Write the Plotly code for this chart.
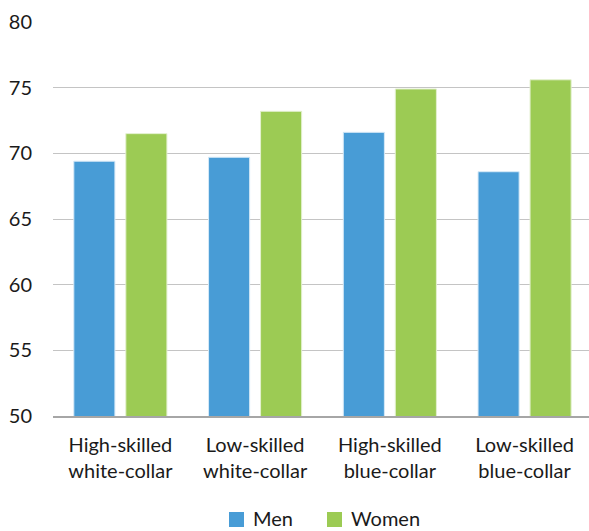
import plotly.graph_objects as go

categories = ["High-skilled<br>white-collar", "Low-skilled<br>white-collar",
              "High-skilled<br>blue-collar", "Low-skilled<br>blue-collar"]
men = [69.4, 69.7, 71.6, 68.6]
women = [71.5, 73.2, 74.9, 75.6]
y_ticks = [50, 55, 60, 65, 70, 75, 80]

FONT = "Lato"
TEXT = "#1a1a1a"
BLUE = "#489cd6"
GREEN = "#9ccb54"

W, H = 589, 531
M_L, M_R, M_T, M_B = 53, 0, 22, 115
PLOT_W = W - M_L - M_R
PLOT_H = H - M_T - M_B

fig = go.Figure()
fig.add_trace(go.Bar(x=categories, y=men, name="Men",
                     marker=dict(color=BLUE, line=dict(color="#d6e9f7", width=1))))
fig.add_trace(go.Bar(x=categories, y=women, name="Women",
                     marker=dict(color=GREEN, line=dict(color="#e3f0cf", width=1))))


def px_x(px):
    return (px - M_L) / PLOT_W


def px_y(py):
    return (H - M_B - py) / PLOT_H


# legend below the axis: colour swatch followed by the series name
legend_items = [("Men", BLUE, 229), ("Women", GREEN, 327)]
for name, color, left in legend_items:
    fig.add_shape(type="rect", xref="paper", yref="paper",
                  x0=px_x(left), x1=px_x(left + 15), y0=px_y(527), y1=px_y(512),
                  fillcolor=color, line=dict(width=0))
    fig.add_annotation(text=name, xref="paper", yref="paper",
                       x=px_x(left + 23), y=px_y(518), xanchor="left", yanchor="middle",
                       showarrow=False, borderpad=0, font=dict(size=20, color=TEXT))

fig.update_layout(
    width=W, height=H,
    margin=dict(l=M_L, r=M_R, t=M_T, b=M_B, autoexpand=False),
    paper_bgcolor="white", plot_bgcolor="white",
    barmode="group", bargap=0.228, bargroupgap=0.21,
    font=dict(family=FONT, size=20, color=TEXT),
    showlegend=False,
)
fig.update_xaxes(showline=True, linecolor="#a6a6a6", linewidth=2, ticks="",
                 range=[-0.5, 3.478], ticklabelstandoff=10, tickfont=dict(size=20),
                 automargin=False)
fig.update_yaxes(range=[50, 80], tickvals=y_ticks, showgrid=True, gridcolor="#c4c4c4",
                 gridwidth=1, zeroline=False, ticks="", ticklabelstandoff=20,
                 tickfont=dict(size=20), automargin=False)

fig.write_html("out.html")
